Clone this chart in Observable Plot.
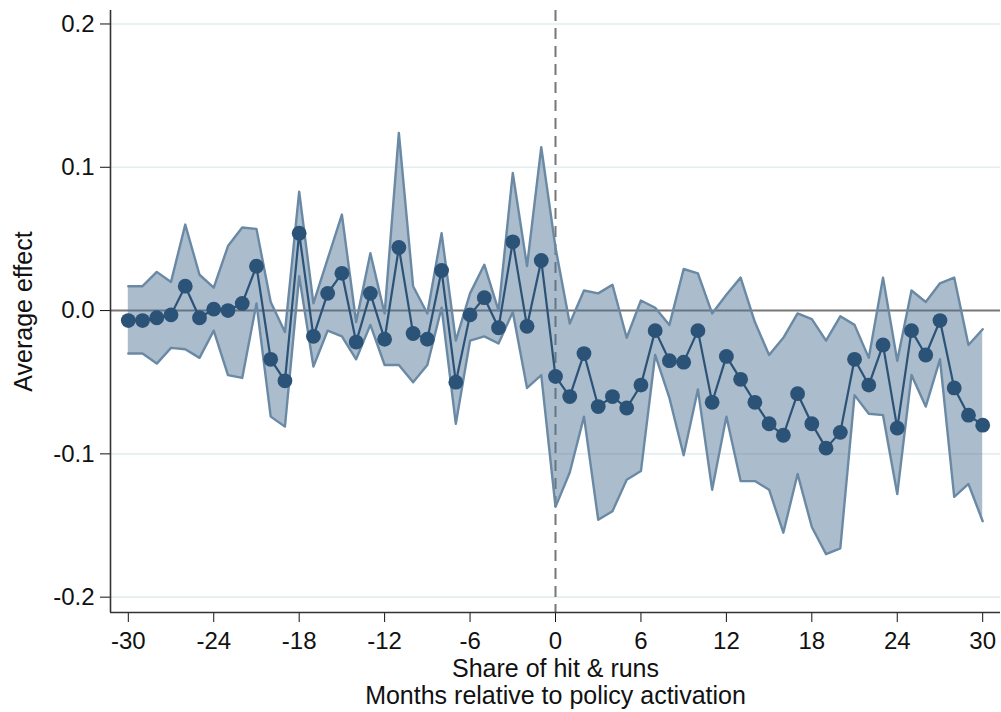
<!DOCTYPE html>
<html>
<head>
<meta charset="utf-8">
<script src="https://cdn.jsdelivr.net/npm/d3@7"></script>
<script src="https://cdn.jsdelivr.net/npm/@observablehq/plot@0.6"></script>
<style>
  html, body { margin: 0; padding: 0; background: #fff; }
</style>
</head>
<body>
<div id="chart"></div>
<script>
const months = [-30,-29,-28,-27,-26,-25,-24,-23,-22,-21,-20,-19,-18,-17,-16,-15,-14,-13,-12,-11,-10,-9,-8,-7,-6,-5,-4,-3,-2,-1,0,1,2,3,4,5,6,7,8,9,10,11,12,13,14,15,16,17,18,19,20,21,22,23,24,25,26,27,28,29,30];

const coef = [-0.007,-0.007,-0.005,-0.003,0.017,-0.005,0.001,0.000,0.005,0.031,-0.034,-0.049,0.054,-0.018,0.012,0.026,-0.022,0.012,-0.020,0.044,-0.016,-0.020,0.028,-0.050,-0.003,0.009,-0.012,0.048,-0.011,0.035,
  -0.046,-0.060,-0.030,-0.067,-0.060,-0.068,-0.052,-0.014,-0.035,-0.036,-0.014,-0.064,-0.032,-0.048,-0.064,-0.079,-0.087,-0.058,-0.079,-0.096,-0.085,-0.034,-0.052,-0.024,-0.082,-0.014,-0.031,-0.007,-0.054,-0.073,-0.080];

const upper = [0.017,0.017,0.027,0.020,0.060,0.025,0.016,0.045,0.058,0.057,0.006,-0.015,0.083,0.005,0.036,0.067,-0.008,0.040,-0.002,0.124,0.017,-0.002,0.054,-0.021,0.012,0.032,0.000,0.096,0.031,0.114,
  0.044,-0.009,0.014,0.012,0.018,-0.019,0.007,0.002,-0.010,0.029,0.026,-0.002,0.011,0.023,-0.008,-0.031,-0.019,-0.002,-0.006,-0.021,-0.004,-0.010,-0.033,0.023,-0.035,0.014,0.006,0.019,0.023,-0.024,-0.013];

const lower = [-0.030,-0.030,-0.037,-0.026,-0.027,-0.033,-0.014,-0.045,-0.047,0.005,-0.074,-0.081,0.024,-0.039,-0.014,-0.018,-0.034,-0.010,-0.038,-0.038,-0.050,-0.038,0.002,-0.079,-0.021,-0.018,-0.023,-0.001,-0.054,-0.045,
  -0.137,-0.113,-0.074,-0.146,-0.140,-0.118,-0.112,-0.031,-0.061,-0.101,-0.055,-0.125,-0.074,-0.119,-0.119,-0.125,-0.155,-0.114,-0.151,-0.170,-0.166,-0.059,-0.072,-0.073,-0.128,-0.045,-0.067,-0.034,-0.130,-0.121,-0.147];

const xTicks = [-30,-24,-18,-12,-6,0,6,12,18,24,30];
const yTicks = [-0.2,-0.1,0,0.1,0.2];
const gridValues = [-0.2,-0.1,0.1,0.2];
const xDomain = [-31.25, 31.25];
const yDomain = [-0.2107, 0.2094];
const xTitleLines = ["Share of hit & runs", "Months relative to policy activation"];
const yTitle = "Average effect";

const data = months.map((m, i) => ({month: m, coef: coef[i], hi: upper[i], lo: lower[i]}));

const font = "'Liberation Sans', Arial, Helvetica, sans-serif";
const bandStroke = "#6a89a5";
const pointColor = "#2b5277";

const chart = Plot.plot({
  width: 1001,
  height: 712,
  marginLeft: 110,
  marginRight: 1,
  marginTop: 10,
  marginBottom: 100,
  style: {fontFamily: font, fontSize: "24px", color: "#111", background: "#fff"},
  x: {domain: xDomain, ticks: xTicks, tickFormat: d => String(d), label: null, tickSize: 10, tickPadding: 9},
  y: {domain: yDomain, ticks: yTicks, tickFormat: d => d.toFixed(1), label: null, tickSize: 10, tickPadding: 6},
  marks: [
    Plot.ruleY(gridValues, {stroke: "#e3eef1", strokeWidth: 1.6}),
    Plot.ruleY([0], {stroke: "#777", strokeWidth: 2}),
    Plot.ruleX([0], {stroke: "#777", strokeWidth: 2, strokeDasharray: "11,7"}),
    Plot.areaY(data, {x: "month", y1: "lo", y2: "hi", fill: "#4f7395", fillOpacity: 0.48}),
    Plot.line(data, {x: "month", y: "hi", stroke: bandStroke, strokeWidth: 2.4}),
    Plot.line(data, {x: "month", y: "lo", stroke: bandStroke, strokeWidth: 2.4}),
    Plot.line(data, {x: "month", y: "coef", stroke: pointColor, strokeWidth: 2.2}),
    Plot.dot(data, {x: "month", y: "coef", r: 7.4, fill: pointColor, stroke: "none"}),
    Plot.ruleX([xDomain[0]], {stroke: "#333", strokeWidth: 1.6}),
    Plot.ruleY([yDomain[0]], {stroke: "#333", strokeWidth: 1.6}),
    Plot.text([xTitleLines[0]], {frameAnchor: "bottom", lineAnchor: "middle", textAnchor: "middle", dy: 56, fontSize: 25, fill: "#111"}),
    Plot.text([xTitleLines[1]], {frameAnchor: "bottom", lineAnchor: "middle", textAnchor: "middle", dy: 83, fontSize: 25, fill: "#111"}),
    Plot.text([yTitle], {frameAnchor: "left", lineAnchor: "middle", textAnchor: "middle", dx: -87, rotate: -90, fontSize: 25, fill: "#111"})
  ]
});

document.getElementById("chart").appendChild(chart);
</script>
</body>
</html>
